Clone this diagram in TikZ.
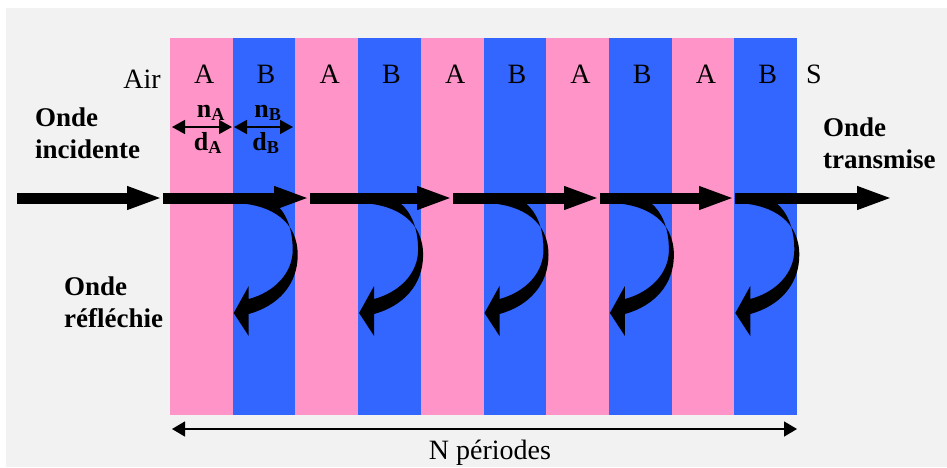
\documentclass[tikz,border=0pt]{standalone}
\usepackage{fontspec}
\setmainfont{Liberation Serif}
\usepackage{tikz}
\usetikzlibrary{arrows.meta,positioning}
\definecolor{layerpink}{RGB}{255,148,200}
\definecolor{layerblue}{RGB}{51,102,255}
\definecolor{slidegray}{RGB}{242,242,242}

\begin{document}
\begin{tikzpicture}[x=1pt, y=-1pt,
  %% styles
  layerA/.style={fill=layerpink, draw=none},
  layerB/.style={fill=layerblue, draw=none},
  lyrlbl/.style={font=\fontsize{28}{32}\selectfont, inner sep=0pt, anchor=base},
  dimlbl/.style={font=\fontsize{26}{30}\selectfont\bfseries, inner sep=0pt, anchor=base},
  wavelbl/.style={font=\fontsize{27}{32}\selectfont\bfseries, align=left,
                  inner sep=0pt, anchor=base west},
  bigarr/.style={line width=11pt, -{Triangle[length=36pt,width=21pt]}},
  dimarr/.style={line width=1.6pt,
                 {Triangle[length=13pt,width=14pt]}-{Triangle[length=13pt,width=14pt]}},
  reflarr/.style={fill=black, draw=none},
]

%% ------ frame -----------------------------------------------------------
\useasboundingbox (0,0) rectangle (947,467);
\fill[white] (0,0) rectangle (947,467);
\fill[slidegray] (6,8) rectangle (947,467);

%% ------ layers (N = 5 periods) -----------------------------------------
\def\xO{170}   % left edge of the stack
\def\dL{62.7}  % layer thickness (px)
\def\yT{38}  \def\yB{415}
\foreach \i in {0,...,4}{
  \fill[layerA] (\xO+2*\i*\dL,\yT) rectangle (\xO+2*\i*\dL+\dL,\yB);
  \fill[layerB] (\xO+2*\i*\dL+\dL,\yT) rectangle (\xO+2*\i*\dL+2*\dL,\yB);
  \node[lyrlbl] (labA\i) at (\xO+2*\i*\dL+0.5*\dL+3,83) {A};
  \node[lyrlbl] (labB\i) at (\xO+2*\i*\dL+1.5*\dL+2,83) {B};
}

%% media
\node[lyrlbl, anchor=base east] (air) at (161,88) {Air};
\node[lyrlbl, anchor=base west] (subs) at (806,83) {S};

%% ------ thicknesses and indices -----------------------------------------
\coordinate (dA1) at (172,127);  \coordinate (dA2) at (232,127);
\coordinate (dB1) at (234,127);  \coordinate (dB2) at (293,127);
\draw[dimarr] (dA1) -- (dA2);
\draw[dimarr] (dB1) -- (dB2);
\node[dimlbl] (nA) at (211,117) {n\textsubscript{A}};
\node[dimlbl] (nB) at (268,117) {n\textsubscript{B}};
\node[dimlbl] (dA) at (208,150) {d\textsubscript{A}};
\node[dimlbl] (dB) at (266,150) {d\textsubscript{B}};

%% ------ waves (base = last line) ----------------------------------------
\node[wavelbl] (inc)   at (35,158)  {Onde\\incidente};
\node[wavelbl] (trans) at (823,168) {Onde\\transmise};
\node[wavelbl] (refl)  at (64,327)  {Onde\\réfléchie};

%% forward wave, one arrow per period
\coordinate (w0) at (17,198);
\coordinate (w1) at (163,198);
\coordinate (w2) at (310,198);
\coordinate (w3) at (453,198);
\coordinate (w4) at (600,198);
\coordinate (w5) at (735,198);
\coordinate (w6) at (893,198);
\foreach \a/\b in {w0/w1,w1/w2,w2/w3,w3/w4,w4/w5,w5/w6}
  \draw[bigarr] (\a) -- (\b);

%% reflected waves, curling back in every B layer
\foreach \i in {0,...,4}{
  \pgfmathsetmacro{\xb}{\xO+2*\i*\dL+\dL}
  \fill[reflarr] (\xb+4,203)
      .. controls (\xb+40,205) and (\xb+65,222) .. (\xb+65,255)
      .. controls (\xb+65,285) and (\xb+45,306) .. (\xb+16,314)
      -- (\xb+16,336) -- (\xb+1,313) -- (\xb+16,286) -- (\xb+16,299)
      .. controls (\xb+42,292) and (\xb+60,273) .. (\xb+60,250)
      .. controls (\xb+60,228) and (\xb+53,212) .. (\xb+42,203) -- cycle;
}

%% ------ number of periods -----------------------------------------------
\coordinate (per1) at (172,429);
\coordinate (per2) at (797,429);
\draw[line width=1.4pt, {Triangle[length=13pt,width=15pt]}-{Triangle[length=13pt,width=15pt]}]
  (per1) -- (per2);
\node[lyrlbl] (nper) at (490,459) {N périodes};

\end{tikzpicture}
\end{document}
